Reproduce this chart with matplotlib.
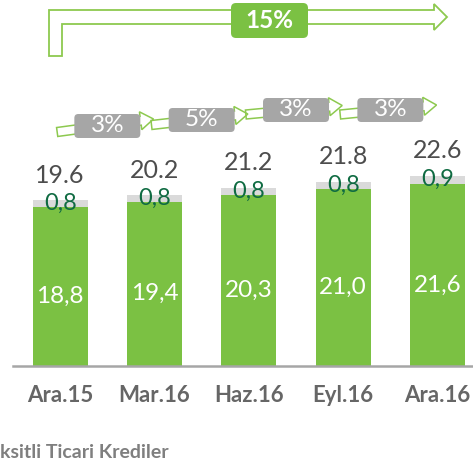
import numpy as np
import matplotlib
matplotlib.use("Agg")
import matplotlib.pyplot as plt
from matplotlib.patches import FancyArrow, FancyBboxPatch, Polygon

plt.rcParams['font.family'] = ['Lato', 'DejaVu Sans']

# data
categories = ['Ara.15', 'Mar.16', 'Haz.16', 'Eyl.16', 'Ara.16']
green_vals = [18.8, 19.4, 20.3, 21.0, 21.6]
gray_vals = [0.8, 0.8, 0.8, 0.8, 0.9]
total_labels = ['19.6', '20.2', '21.2', '21.8', '22.6']
growth = ['3%', '5%', '3%', '3%']
total_growth = '15%'
footer = 'ksitli Ticari Krediler'

GREEN = '#7bc143'
LIGHT = '#dadada'
OUTLINE = '#8dc94f'
BOXGRAY = '#a6a6a6'

W, H = 473, 466
fig = plt.figure(figsize=(W / 100, H / 100), dpi=100)

def px(x, y):
    # pixel (from top-left) -> inches for dpi_scale_trans
    return x / 100, (H - y) / 100

# axes: baseline at y=365.5px, 8.42 px per unit
ax = fig.add_axes([13 / W, (H - 365.5) / H, 471.7 / W, 252.6 / H])
x = np.arange(len(categories))
ax.bar(x, green_vals, width=0.58, color=GREEN, zorder=2)
ax.bar(x, gray_vals, bottom=green_vals, width=0.58, color=LIGHT, zorder=2)
ax.set_xlim(-0.5, len(categories) - 0.5)
ax.set_ylim(0, 30)

for i in range(len(categories)):
    g, s = green_vals[i], gray_vals[i]
    ax.text(i, g * 0.44, f'{g:.1f}'.replace('.', ','), ha='center', va='center',
            color='white', fontsize=17.5)
    ax.text(i, g + s / 2, f'{s:.1f}'.replace('.', ','), ha='center', va='center',
            color='#0f6b42', fontsize=17)
    ax.text(i, g + s + 3.0, total_labels[i], ha='center', va='center',
            color='#4d4d4d', fontsize=18)

ax.set_xticks(x)
ax.set_xticklabels(categories, fontsize=16, fontweight='bold', color='#666666')
ax.tick_params(axis='x', length=0, pad=14)
ax.set_yticks([])
for sp in ['top', 'right', 'left']:
    ax.spines[sp].set_visible(False)
ax.spines['bottom'].set_color('#a6a6a6')
ax.spines['bottom'].set_linewidth(1.8)

tr = fig.dpi_scale_trans

# small growth arrows between quarters
centers_px = [13 + (i + 0.5) * 94.34 for i in range(len(categories))]
arrow_y0 = [132, 125, 114.5, 114.5]
arrow_y1 = [119, 114, 105.5, 105]
box_y = [126, 120, 110, 110]
for i, lab in enumerate(growth):
    x0, y0 = px(centers_px[i] - 3, arrow_y0[i])
    x1, y1 = px(centers_px[i + 1] - 1, arrow_y1[i])
    fig.patches.append(FancyArrow(x0, y0, x1 - x0, y1 - y0, width=0.09,
                                  head_width=0.18, head_length=0.13,
                                  length_includes_head=True, fill=False,
                                  edgecolor=OUTLINE, linewidth=1.1, transform=tr))
    bx = (centers_px[i] + centers_px[i + 1]) / 2
    bx0, by0 = px(bx - 33, box_y[i] + 12)
    fig.patches.append(FancyBboxPatch((bx0, by0), 0.66, 0.24,
                                      boxstyle='round,pad=0,rounding_size=0.04',
                                      facecolor=BOXGRAY, edgecolor='none', transform=tr))
    tx, ty = px(bx, box_y[i])
    fig.text(tx, ty, lab, transform=tr, ha='center', va='center',
             color='white', fontsize=17.5)

# big bent arrow across the whole period
pts = [(49, 56), (49, 10), (434, 10), (434, 4), (447, 17), (434, 30),
       (434, 24), (62, 24), (62, 56)]
fig.patches.append(Polygon([px(a, b) for a, b in pts], closed=True, fill=False,
                           edgecolor=OUTLINE, linewidth=1.3, transform=tr))
bx0, by0 = px(231, 38)
fig.patches.append(FancyBboxPatch((bx0, by0), 0.77, 0.35,
                                  boxstyle='round,pad=0,rounding_size=0.05',
                                  facecolor=GREEN, edgecolor='none', transform=tr))
tx, ty = px(269.5, 20.5)
fig.text(tx, ty, total_growth, transform=tr, ha='center', va='center',
         color='white', fontsize=17.5, fontweight='bold')

tx, ty = px(0, 452)
fig.text(tx, ty, footer, transform=tr, ha='left', va='center',
         color='#7f7f7f', fontsize=14, fontweight='bold')

fig.savefig('out.png', dpi=100)
